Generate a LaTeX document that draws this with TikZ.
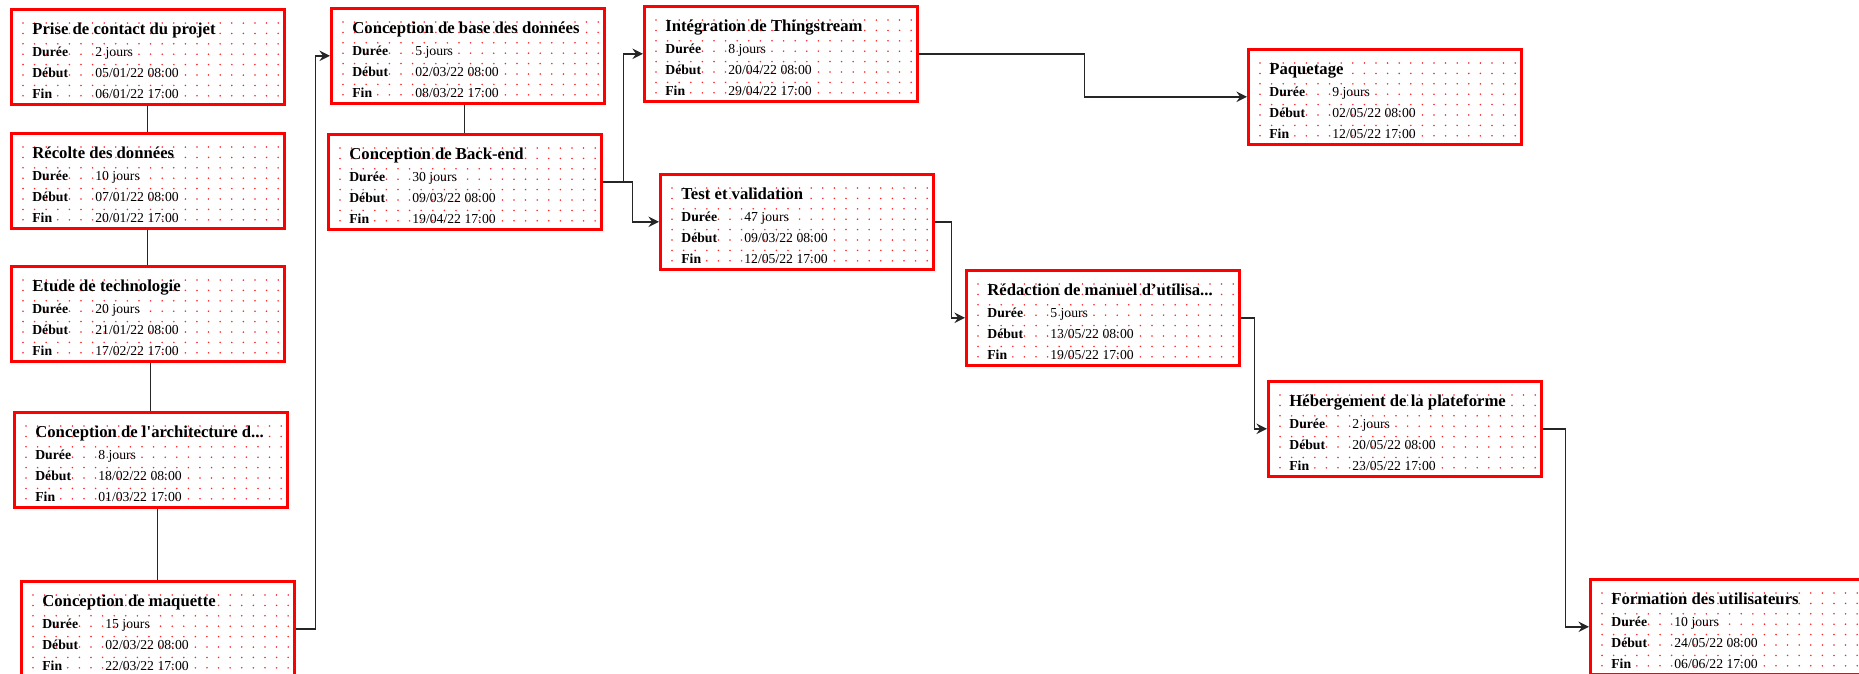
\documentclass[tikz,border=0pt]{standalone}
\usepackage{fontspec}
\newfontfamily\ganttfont{Liberation Serif}[Ligatures=TeXOff]
\usepackage{tikz}
\usetikzlibrary{arrows.meta, calc}
% carte d'une tache : nom, position (x,y), titre, duree, debut, fin
\newcommand{\tache}[6]{%
  \node[tache] (#1) at (#2) {};
  \node[titre] (#1t) at ([shift={(22,26)}]#1.north west) {#3};
  \node[champ] (#1a) at ([shift={(22,48.5)}]#1.north west) {Durée};
  \node[valeur] (#1b) at ([shift={(85,48.5)}]#1.north west) {#4};
  \node[champ] (#1c) at ([shift={(22,69.5)}]#1.north west) {Début};
  \node[valeur] (#1d) at ([shift={(85,69.5)}]#1.north west) {#5};
  \node[champ] (#1e) at ([shift={(22,90.5)}]#1.north west) {Fin};
  \node[valeur] (#1f) at ([shift={(85,90.5)}]#1.north west) {#6};
}

\begin{document}
\begin{tikzpicture}[
    x=0.02cm, y=-0.02cm,
    tache/.style={draw=red, line width=1.5pt, fill=white, minimum width=5.46cm,
                  minimum height=1.9cm, inner sep=0pt, anchor=north west,
                  path picture={\foreach \i in {0,...,22}{\foreach \j in {0,...,7}{
                    \fill[red!85] ([xshift=2.34mm+\i*2.32mm, yshift=-2.74mm-\j*2.08mm]path picture bounding box.north west)
                      circle[radius=0.5pt];}}}},
    titre/.style={anchor=base west, inner sep=0pt, font=\ganttfont\bfseries\fontsize{9.5}{11}\selectfont},
    champ/.style={anchor=base west, inner sep=0pt, font=\ganttfont\bfseries\fontsize{7.8}{9}\selectfont},
    valeur/.style={anchor=base west, inner sep=0pt, font=\ganttfont\fontsize{7.8}{9}\selectfont},
    lien/.style={draw=black!85, line width=0.8pt},
    fleche/.style={lien, -{Stealth[length=6pt, width=6pt, inset=2pt]}},
]
\useasboundingbox (0,0) rectangle (1859,673);

\tache{t1}{10,8}{Prise de contact du projet}{2 jours}{05/01/22 08:00}{06/01/22 17:00}
\tache{t2}{10,132}{Récolte des données}{10 jours}{07/01/22 08:00}{20/01/22 17:00}
\tache{t3}{10,265}{Etude de technologie}{20 jours}{21/01/22 08:00}{17/02/22 17:00}
\tache{t4}{13,411}{Conception de l'architecture d...}{8 jours}{18/02/22 08:00}{01/03/22 17:00}
\tache{t5}{20,580}{Conception de maquette}{15 jours}{02/03/22 08:00}{22/03/22 17:00}
\tache{t6}{330,7}{Conception de base des données}{5 jours}{02/03/22 08:00}{08/03/22 17:00}
\tache{t7}{327,133}{Conception de Back-end}{30 jours}{09/03/22 08:00}{19/04/22 17:00}
\tache{t8}{643,5}{Intégration de Thingstream}{8 jours}{20/04/22 08:00}{29/04/22 17:00}
\tache{t9}{659,173}{Test et validation}{47 jours}{09/03/22 08:00}{12/05/22 17:00}
\tache{t10}{1247,48}{Paquetage}{9 jours}{02/05/22 08:00}{12/05/22 17:00}
\tache{t11}{965,269}{Rédaction de manuel d’utilisa...}{5 jours}{13/05/22 08:00}{19/05/22 17:00}
\tache{t12}{1267,380}{Hébergement de la plateforme}{2 jours}{20/05/22 08:00}{23/05/22 17:00}
\tache{t13}{1589,578}{Formation des utilisateurs}{10 jours}{24/05/22 08:00}{06/06/22 17:00}

\foreach \a/\b in {t1/t2,t2/t3,t3/t4,t4/t5,t6/t7}{
  \draw[lien] (\b.north |- \a.south) -- (\b.north);
}
\draw[fleche] (t5.east) -- ++(20,0) |- (t6.west);
\draw[fleche] (t7.east) -- ++(21,0) |- (t8.west);
\draw[fleche] (t7.east) -- ++(30,0) |- (t9.west);
\draw[fleche] (t8.east) -- ++(166,0) |- (t10.west);
\draw[fleche] (t9.east) -- ++(17,0) |- (t11.west);
\draw[fleche] (t11.east) -- ++(14,0) |- (t12.west);
\draw[fleche] (t12.east) -- ++(23,0) |- (t13.west);

\end{tikzpicture}
\end{document}
